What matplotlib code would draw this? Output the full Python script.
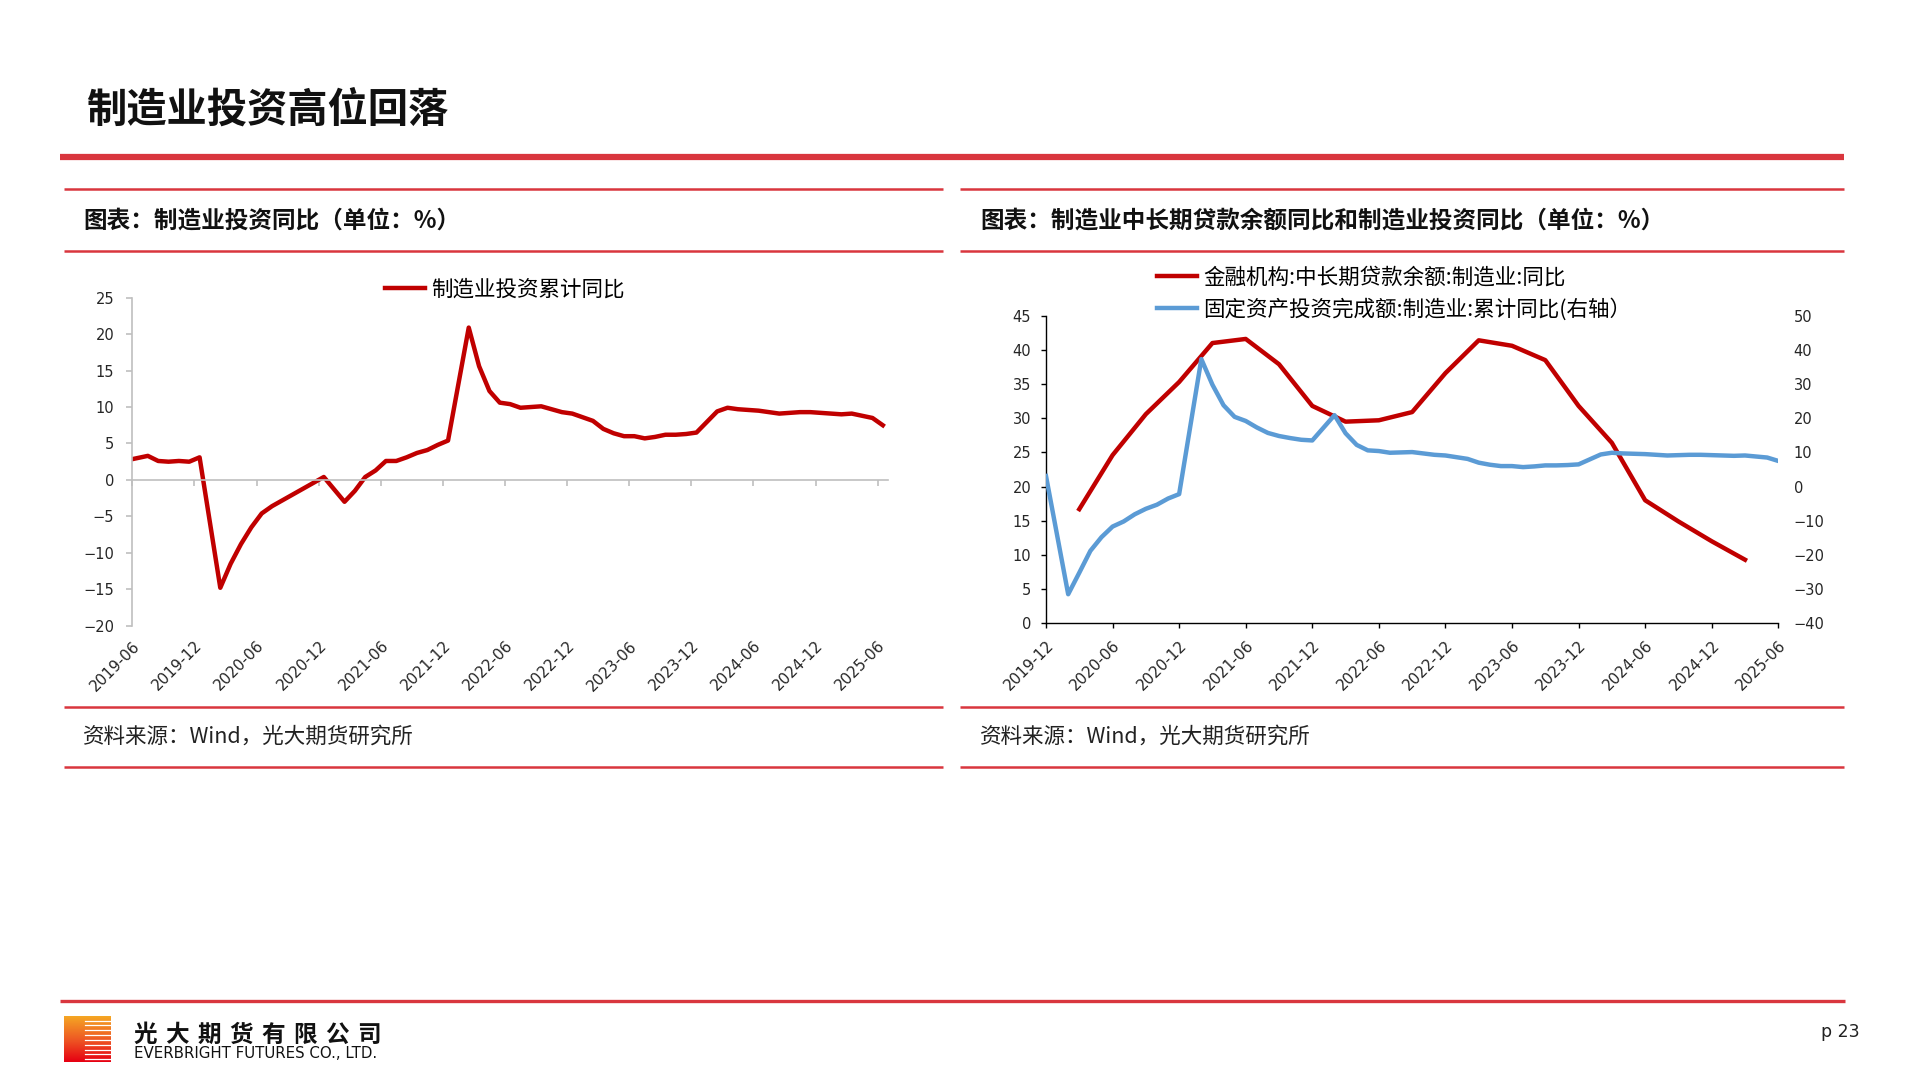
import matplotlib
matplotlib.use("Agg")
import matplotlib.pyplot as plt
from matplotlib.lines import Line2D
import numpy as np

plt.rcParams['font.family'] = ['Noto Sans CJK SC', 'DejaVu Sans']
plt.rcParams['axes.unicode_minus'] = True

W, H = 1920, 1080
RED_LINE = '#D9363E'
SERIES_RED = '#C00000'
SERIES_BLUE = '#5B9BD5'
NUM_FONT = ['DejaVu Sans']


def month_labels(first, last):
    # monthly stats: January is folded into February, so Jan never shows up
    y, m = map(int, first.split('-'))
    y1, m1 = map(int, last.split('-'))
    out = []
    while (y, m) <= (y1, m1):
        if m != 1:
            out.append('%d-%02d' % (y, m))
        m += 1
        if m > 12:
            y, m = y + 1, 1
    return out


def month_index(label, base):
    y, m = map(int, label.split('-'))
    by, bm = map(int, base.split('-'))
    return (y - by) * 12 + (m - bm)


# ---------------- data ----------------
# left chart: manufacturing investment, cumulative yoy (2020/2021 as 2-year average)
inv_months = month_labels('2019-05', '2025-06')
inv_yoy = [2.7, 3.0, 3.3, 2.6, 2.5, 2.6, 2.5, 3.1,
           -14.8, -11.5, -8.8, -6.5, -4.6, -3.6, -2.8, -2.0, -1.2, -0.4, 0.4,
           -3.0, -1.5, 0.4, 1.3, 2.6, 2.6, 3.1, 3.7, 4.1, 4.8, 5.4,
           20.9, 15.6, 12.2, 10.6, 10.4, 9.9, 10.0, 10.1, 9.7, 9.3, 9.1,
           8.1, 7.0, 6.4, 6.0, 6.0, 5.7, 5.9, 6.2, 6.2, 6.3, 6.5,
           9.4, 9.9, 9.7, 9.6, 9.5, 9.3, 9.1, 9.2, 9.3, 9.3, 9.2,
           9.0, 9.1, 8.8, 8.5, 7.5]
left_ticks = ['2019-06', '2019-12', '2020-06', '2020-12', '2021-06', '2021-12',
              '2022-06', '2022-12', '2023-06', '2023-12', '2024-06', '2024-12',
              '2025-06']

# right chart: FAI manufacturing cumulative yoy (right axis)
fai_months = month_labels('2019-12', '2025-06')
fai_yoy = [3.1,
           -31.5, -25.2, -18.8, -14.8, -11.7, -10.2, -8.1, -6.5, -5.3, -3.5, -2.2,
           37.3, 29.8, 23.8, 20.4, 19.2, 17.3, 15.7, 14.8, 14.2, 13.7, 13.5,
           20.9, 15.6, 12.2, 10.6, 10.4, 9.9, 10.0, 10.1, 9.7, 9.3, 9.1,
           8.1, 7.0, 6.4, 6.0, 6.0, 5.7, 5.9, 6.2, 6.2, 6.3, 6.5,
           9.4, 9.9, 9.7, 9.6, 9.5, 9.3, 9.1, 9.2, 9.3, 9.3, 9.2,
           9.0, 9.1, 8.8, 8.5, 7.5]
# mid/long term loans to manufacturing, yoy (quarterly)
loan_quarters = ['2020-03', '2020-06', '2020-09', '2020-12',
                 '2021-03', '2021-06', '2021-09', '2021-12',
                 '2022-03', '2022-06', '2022-09', '2022-12',
                 '2023-03', '2023-06', '2023-09', '2023-12',
                 '2024-03', '2024-06', '2024-09', '2024-12',
                 '2025-03']
loan_yoy = [16.7, 24.6, 30.6, 35.3, 41.0, 41.6, 37.9, 31.8, 29.5, 29.7, 30.9,
            36.6, 41.4, 40.6, 38.5, 31.8, 26.4, 18.0, 14.9, 12.0, 9.3]
right_ticks = ['2019-12', '2020-06', '2020-12', '2021-06', '2021-12', '2022-06',
               '2022-12', '2023-06', '2023-12', '2024-06', '2024-12', '2025-06']


def fx(x):
    return x / W


def fy(y):
    return 1 - y / H


def hline(fig, x0, x1, y, lw, color=RED_LINE):
    fig.add_artist(Line2D([fx(x0), fx(x1)], [fy(y), fy(y)],
                          transform=fig.transFigure, color=color, lw=lw,
                          solid_capstyle='butt'))


fig = plt.figure(figsize=(W / 100, H / 100), dpi=100)
fig.patch.set_facecolor('white')

# ---------------- page decoration ----------------
fig.text(fx(86), fy(110), '制造业投资高位回落', fontsize=29, fontweight='bold',
         va='center', ha='left', color='#111111')
hline(fig, 60, 1844, 156.7, 4.5)

for x0, x1 in [(63.7, 943), (960, 1844)]:
    for y in [188.6, 251, 706.5, 766.5]:
        hline(fig, x0, x1, y, 1.8)

fig.text(fx(83), fy(220.5), '图表：制造业投资同比（单位：%）', fontsize=17,
         fontweight='bold', va='center', ha='left', color='#111111')
fig.text(fx(980), fy(220.5), '图表：制造业中长期贷款余额同比和制造业投资同比（单位：%）',
         fontsize=17, fontweight='bold', va='center', ha='left', color='#111111')
for x in [83, 980]:
    fig.text(fx(x), fy(736.5), '资料来源：Wind，光大期货研究所', fontsize=15.5,
             style='italic', va='center', ha='left', color='#222222')

# footer
hline(fig, 60, 1845, 1001, 2.4)
logo = fig.add_axes([fx(64), fy(1062), fx(47), 46 / H])
grad = np.linspace(0, 1, 100).reshape(-1, 1)
logo.imshow(grad, aspect='auto', cmap=matplotlib.colors.LinearSegmentedColormap.from_list(
    'lg', ['#F5A623', '#EE5A24', '#E60012']), extent=[0, 1, 0, 1], origin='upper')
for k in range(9):
    yy = 0.06 + k * 0.105
    logo.plot([0.45, 1.0], [yy, yy], color='white', lw=0.9)
logo.set_xlim(0, 1)
logo.set_ylim(0, 1)
logo.axis('off')

name = '光大期货有限公司'
for i, ch in enumerate(name):
    fig.text(fx(133 + i * 32), fy(1035), ch, fontsize=17, fontweight='bold',
             va='center', ha='left', color='#111111')
fig.text(fx(134), fy(1053), 'EVERBRIGHT FUTURES CO., LTD.', fontsize=10.8,
         family=NUM_FONT, va='center', ha='left', color='#111111')
fig.text(fx(1821), fy(1032), 'p 23', fontsize=12.5, family=NUM_FONT,
         va='center', ha='left', color='#222222')

# ---------------- left chart ----------------
GRAY = '#BFBFBF'
ax1 = fig.add_axes([fx(132.3), fy(625.7), fx(888 - 132.3), (625.7 - 297.7) / H])
x_inv = [month_index(m, '2019-06') + 0.5 for m in inv_months]
ax1.plot(x_inv, inv_yoy, color=SERIES_RED, lw=3.2, solid_joinstyle='round',
         label='制造业投资累计同比')
ax1.set_xlim(0, 73)
ax1.set_ylim(-20, 25)
ax1.set_yticks(range(-20, 26, 5))
lt_pos = [month_index(t, '2019-06') for t in left_ticks]
ax1.set_xticks(lt_pos)
for s in ['top', 'right']:
    ax1.spines[s].set_visible(False)
ax1.spines['left'].set_color(GRAY)
ax1.spines['left'].set_linewidth(1.2)
ax1.spines['bottom'].set_position(('data', 0))
ax1.spines['bottom'].set_color(GRAY)
ax1.spines['bottom'].set_linewidth(1.2)
ax1.tick_params(axis='x', direction='out', length=4, color=GRAY, width=1.2,
                labelbottom=False)
ax1.tick_params(axis='y', direction='out', length=4, color=GRAY, width=1.2,
                pad=9, labelsize=10.5, labelcolor='#262626')
for lab in ax1.get_yticklabels():
    lab.set_family(NUM_FONT)

sec1 = ax1.secondary_xaxis('bottom')
sec1.set_xticks(lt_pos, labels=left_ticks)
sec1.tick_params(length=0, pad=9, labelsize=11, labelcolor='#262626')
sec1.spines['bottom'].set_visible(False)
for lab in sec1.get_xticklabels():
    lab.set_rotation(45)
    lab.set_ha('right')
    lab.set_rotation_mode('anchor')
    lab.set_family(NUM_FONT)

ax1.legend(loc='center left', bbox_to_anchor=(fx(385), fy(290)),
           bbox_transform=fig.transFigure, frameon=False, fontsize=15.5,
           handlelength=1.85, handletextpad=0.3, borderpad=0, borderaxespad=0)

# ---------------- right chart ----------------
ax2 = fig.add_axes([fx(1046), fy(623.3), fx(1778.3 - 1046), (623.3 - 315.7) / H])
x_loan = [month_index(q, '2019-12') for q in loan_quarters]
x_fai = [month_index(m, '2019-12') for m in fai_months]
l1, = ax2.plot(x_loan, loan_yoy, color=SERIES_RED, lw=3.2, solid_joinstyle='round',
               label='金融机构:中长期贷款余额:制造业:同比')
ax2.set_xlim(0, 66)
ax2.set_ylim(0, 45)
ax2.set_yticks(range(0, 46, 5))
rt_pos = [month_index(t, '2019-12') for t in right_ticks]
ax2.set_xticks(rt_pos, labels=right_ticks)
for s in ['top', 'right']:
    ax2.spines[s].set_visible(False)
for s in ['left', 'bottom']:
    ax2.spines[s].set_color('black')
    ax2.spines[s].set_linewidth(1.0)
ax2.tick_params(axis='y', direction='out', length=3.6, width=1.0, pad=7,
                labelsize=10.5, labelcolor='#262626')
ax2.tick_params(axis='x', direction='out', length=3.6, width=1.0, pad=7,
                labelsize=11, labelcolor='#262626')
for lab in ax2.get_yticklabels():
    lab.set_family(NUM_FONT)
for lab in ax2.get_xticklabels():
    lab.set_rotation(45)
    lab.set_ha('right')
    lab.set_rotation_mode('anchor')
    lab.set_family(NUM_FONT)

ax2b = ax2.twinx()
l2, = ax2b.plot(x_fai, fai_yoy, color=SERIES_BLUE, lw=3.2, solid_joinstyle='round',
                label='固定资产投资完成额:制造业:累计同比(右轴）')
ax2b.set_ylim(-40, 50)
ax2b.set_yticks(range(-40, 51, 10))
for s in ax2b.spines.values():
    s.set_visible(False)
ax2b.tick_params(axis='y', length=0, pad=11, labelsize=10.5, labelcolor='#262626')
for lab in ax2b.get_yticklabels():
    lab.set_family(NUM_FONT)

fig.legend(handles=[l1, l2], loc='center left',
           bbox_to_anchor=(fx(1156.7), fy(293.3)), bbox_transform=fig.transFigure,
           frameon=False, fontsize=15.5, handlelength=1.85, handletextpad=0.3,
           borderpad=0, borderaxespad=0, labelspacing=0.45)

fig.savefig('out.png', dpi=100, facecolor='white')
